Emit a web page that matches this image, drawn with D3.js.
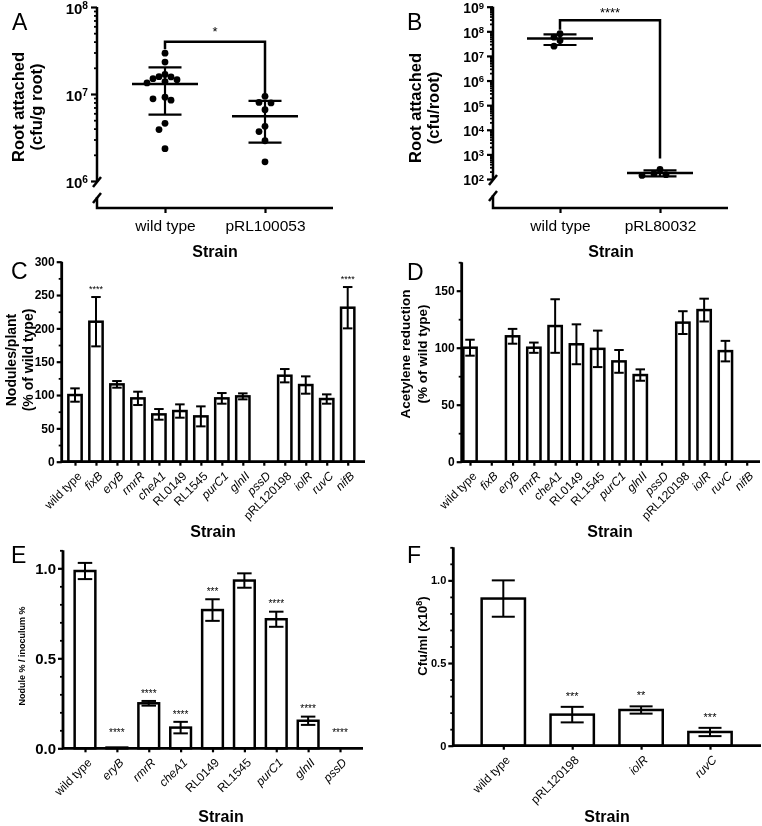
<!DOCTYPE html>
<html>
<head>
<meta charset="utf-8">
<script src="https://cdn.jsdelivr.net/npm/d3@7"></script>
<style>
  body { margin: 0; background: #fff; }
  svg { font-family: "Liberation Sans", Arial, Helvetica, sans-serif; will-change: transform; }
</style>
</head>
<body>
<div id="chart"></div>
<script>
// ---------- data ----------
// A: root attachment (cfu/g root), one value per plant
const aStrains = ["wild type", "pRL100053"];
const aWildType = [2.95e7, 2.33e7, 1.68e7, 1.58e7, 1.57e7, 1.50e7, 1.46e7, 1.39e7, 1.34e7,
                   9.2e6, 8.8e6, 8.5e6, 4.6e6, 3.9e6, 2.35e6];
const aMutant = [9.4e6, 8.0e6, 7.9e6, 6.6e6, 4.25e6, 3.7e6, 2.9e6, 1.66e6];
const aSignif = "*";

// B: root attachment (cfu/root)
const bStrains = ["wild type", "pRL80032"];
const bWildType = [8.0e7, 5.8e7, 4.2e7, 2.5e7];
const bMutant = [245, 165, 150, 140];
const bSignif = "****";

// C: nodules per plant (% of wild type)
const cStrains = ["wild type", "fixB", "eryB", "rmrR", "cheA1", "RL0149", "RL1545", "purC1",
                  "glnII", "pssD", "pRL120198", "iolR", "ruvC", "nifB"];
const cMeans  = [100, 210, 116, 95, 71, 76, 68, 95, 98, 0, 129, 115, 94, 231];
const cErrors = [10, 37, 5, 10, 8, 10, 15, 8, 4.5, 0, 10, 13, 7, 31];
const cSignif = ["", "****", "", "", "", "", "", "", "", "", "", "", "", "****"];

// D: acetylene reduction (% of wild type)
const dStrains = cStrains;
const dMeans  = [100, 0, 110, 100, 119, 103, 99, 88, 76, 0, 122, 133, 97, 0];
const dErrors = [7, 0, 6.5, 4.5, 23.5, 17.5, 16, 10, 5, 0, 10, 10, 9, 0];

// E: competition, nodule % / inoculum %
const eStrains = ["wild type", "eryB", "rmrR", "cheA1", "RL0149", "RL1545", "purC1", "glnII", "pssD"];
const eMeans  = [0.985, 0.004, 0.25, 0.115, 0.768, 0.932, 0.717, 0.153, 0];
const eErrors = [0.045, 0, 0.013, 0.032, 0.06, 0.04, 0.042, 0.023, 0];
const eSignif = ["", "****", "****", "****", "***", "", "****", "****", "****"];

// F: cfu/ml (x10^8)
const fStrains = ["wild type", "pRL120198", "iolR", "ruvC"];
const fMeans  = [0.89, 0.188, 0.216, 0.083];
const fErrors = [0.11, 0.047, 0.022, 0.025];
const fSignif = ["", "***", "**", "***"];

// ---------- drawing ----------
const svg = d3.select("#chart").append("svg")
    .attr("width", 762)
    .attr("height", 826);

const isGene = s => /^[a-z]{3}[A-Z]/.test(s);   // gene names in italics

function panelLetter(t, x, y) {
  svg.append("text").attr("x", x).attr("y", y).text(t).attr("font-size", "23px");
}

function yTitle(lines, x, cy, size, gap) {
  const t = svg.append("text")
      .attr("transform", `translate(${x},${cy}) rotate(-90)`)
      .attr("text-anchor", "middle")
      .attr("font-weight", "bold")
      .attr("font-size", size + "px");
  lines.forEach((l, i) => t.append("tspan").attr("x", 0).attr("y", i * gap).text(l));
  return t;
}

function strainTitle(x, y) {
  svg.append("text").attr("x", x).attr("y", y).attr("text-anchor", "middle")
      .attr("font-weight", "bold").attr("font-size", "16px").text("Strain");
}

// simple beeswarm: keep y, push x sideways until no overlap
function swarm(vals, y, dist, step) {
  const placed = [];
  vals.slice().sort((a, b) => b - a).forEach(v => {
    const py = y(v);
    for (let k = 0; ; k++) {
      const off = k === 0 ? 0 : (k % 2 ? -1 : 1) * Math.ceil(k / 2) * step;
      if (placed.every(p => Math.hypot(p.dx - off, p.y - py) >= dist)) {
        placed.push({v, y: py, dx: off});
        break;
      }
    }
  });
  return placed;
}

function dotPanel(p) {
  const y = d3.scaleLog().domain(p.yDomain).range([p.yBottom, p.yTop]);
  const x = d3.scalePoint().domain(p.strains).range(p.xCenters);
  const ax = p.axisX;

  // axis lines with break
  const axes = svg.append("g").attr("fill", "none").attr("stroke", "#000").attr("stroke-width", 2.5);
  axes.append("path").attr("d", `M${ax},${p.yTop}V${p.yBottom + 1}`);
  axes.append("path").attr("d", `M${ax + 4},${p.yBottom - 4}L${ax - 4},${p.yBottom + 6}`);
  axes.append("path").attr("d", `M${ax + 4},${p.yBottom + 12}L${ax - 4},${p.yBottom + 22}`);
  axes.append("path").attr("d", `M${ax},${p.yBottom + 16}V${p.baseY}H${p.xEnd}`);

  const ticks = y.ticks();
  const isMajor = d => Math.abs(Math.log10(d) - Math.round(Math.log10(d))) < 1e-9;

  svg.append("g").attr("transform", `translate(${ax},0)`)
      .call(d3.axisLeft(y).tickValues(ticks.filter(d => !isMajor(d))).tickSize(3).tickFormat(""))
      .call(g => g.select(".domain").remove())
      .attr("stroke-width", 1.8);

  svg.append("g").attr("transform", `translate(${ax},0)`)
      .call(d3.axisLeft(y).tickValues(ticks.filter(isMajor)).tickSize(6).tickPadding(3))
      .call(g => g.select(".domain").remove())
      .attr("stroke-width", 2.2)
      .call(g => g.selectAll("text")
          .attr("font-size", p.tickFont + "px")
          .attr("font-weight", "bold")
          .attr("font-family", null)
          .attr("dy", "0.42em")
          .text(null)
          .each(function(d) {
            const t = d3.select(this);
            t.append("tspan").text("10");
            t.append("tspan").attr("dy", -p.tickFont * 0.32).attr("font-size", (p.tickFont * 0.68) + "px")
                .text(Math.round(Math.log10(d)));
          }));

  // x axis ticks + labels
  svg.append("g").attr("transform", `translate(0,${p.baseY})`)
      .call(d3.axisBottom(x).tickSize(5).tickPadding(7))
      .call(g => g.select(".domain").remove())
      .attr("stroke-width", 2.2)
      .call(g => g.selectAll("text").attr("font-size", "15.5px").attr("font-family", null));

  // points, mean and SD
  [p.groupA, p.groupB].forEach((vals, i) => {
    const cx = x(p.strains[i]);
    const pts = swarm(vals, y, 6.3, 6);
    svg.append("g").selectAll("circle").data(pts).join("circle")
        .attr("cx", d => cx + d.dx)
        .attr("cy", d => d.y)
        .attr("r", 3.4)
        .attr("fill", "#000");
    const m = d3.mean(vals), sd = d3.deviation(vals);
    const g = svg.append("g").attr("stroke", "#000");
    g.append("line").attr("x1", cx - 33).attr("x2", cx + 33)
        .attr("y1", y(m)).attr("y2", y(m)).attr("stroke-width", 2.5);
    g.append("line").attr("x1", cx).attr("x2", cx)
        .attr("y1", y(m - sd)).attr("y2", y(m + sd)).attr("stroke-width", 2.2);
    [m - sd, m + sd].forEach(v => g.append("line").attr("x1", cx - 16.5).attr("x2", cx + 16.5)
        .attr("y1", y(v)).attr("y2", y(v)).attr("stroke-width", 2.2));
  });

  // significance bracket
  const top = y(Math.max(d3.max(p.groupA), d3.max(p.groupB))) - p.bracketGap;
  const x0 = x(p.strains[0]), x1 = x(p.strains[1]);
  svg.append("path")
      .attr("d", `M${x0},${y(d3.max(p.groupA)) - 4}V${top}H${x1}V${y(d3.max(p.groupB)) - p.rightLegGap}`)
      .attr("fill", "none").attr("stroke", "#000").attr("stroke-width", 2.5);
  svg.append("text").attr("x", (x0 + x1) / 2).attr("y", top - p.starGap)
      .attr("text-anchor", "middle").attr("font-size", "13px").text(p.signif);
}

function barPanel(p) {
  const x = d3.scalePoint().domain(p.strains).range(p.xCenters);
  const y = d3.scaleLinear().domain(p.yDomain).range([p.baseY, p.topY]);
  const bw = p.barWidth, cap = p.capWidth;
  const data = p.strains.map((s, i) => ({s, v: p.means[i], e: p.errors[i], star: p.signif ? p.signif[i] : ""}));

  // bars
  svg.append("g").selectAll("rect").data(data.filter(d => d.v > 0)).join("rect")
      .attr("x", d => x(d.s) - bw / 2)
      .attr("y", d => y(d.v))
      .attr("width", bw)
      .attr("height", d => y(0) - y(d.v))
      .attr("fill", "#fff")
      .attr("stroke", "#000")
      .attr("stroke-width", 2.5);

  // error bars (mean +/- SEM)
  const withErr = data.filter(d => d.e > 0);
  const eg = svg.append("g").attr("stroke", "#000").attr("stroke-width", 2);
  eg.selectAll("line.v").data(withErr).join("line").attr("class", "v")
      .attr("x1", d => x(d.s)).attr("x2", d => x(d.s))
      .attr("y1", d => y(d.v - d.e)).attr("y2", d => y(d.v + d.e));
  eg.selectAll("line.c").data(withErr.flatMap(d => [{s: d.s, v: d.v - d.e}, {s: d.s, v: d.v + d.e}]))
    .join("line").attr("class", "c")
      .attr("x1", d => x(d.s) - cap / 2).attr("x2", d => x(d.s) + cap / 2)
      .attr("y1", d => y(d.v)).attr("y2", d => y(d.v));

  // stars
  svg.append("g").selectAll("text").data(data.filter(d => d.star)).join("text")
      .attr("x", d => x(d.s))
      .attr("y", d => Math.min(y(d.v + d.e) - p.starGap, y(0) - p.starMin))
      .attr("text-anchor", "middle")
      .attr("font-size", p.starFont + "px")
      .attr("fill", "#000")
      .text(d => d.star);

  // axis lines
  svg.append("path")
      .attr("d", `M${p.axisX},${p.topY}V${p.baseY}H${p.xEnd}`)
      .attr("fill", "none").attr("stroke", "#000").attr("stroke-width", 2.8);

  // y ticks
  svg.append("g").attr("transform", `translate(${p.axisX},0)`)
      .call(d3.axisLeft(y).tickValues(p.minorTicks).tickSize(3).tickFormat(""))
      .call(g => g.select(".domain").remove())
      .attr("stroke-width", 1.8);
  svg.append("g").attr("transform", `translate(${p.axisX},0)`)
      .call(d3.axisLeft(y).tickValues(p.majorTicks).tickSize(5).tickPadding(2).tickFormat(p.fmt))
      .call(g => g.select(".domain").remove())
      .attr("stroke-width", 2.2)
      .call(g => g.selectAll("text").attr("font-size", p.tickFont + "px")
          .attr("font-weight", "bold").attr("font-family", null));

  // x ticks with slanted labels
  svg.append("g").attr("transform", `translate(0,${p.baseY})`)
      .call(d3.axisBottom(x).tickSize(4))
      .call(g => g.select(".domain").remove())
      .attr("stroke-width", 2.2)
      .call(g => g.selectAll("text")
          .attr("font-size", "12px")
          .attr("font-family", null)
          .attr("font-style", d => isGene(d) ? "italic" : null)
          .attr("text-anchor", "end")
          .attr("x", null).attr("y", null).attr("dy", null)
          .attr("transform", "translate(7,15) rotate(-45)"));
}

// ---------- panels ----------
dotPanel({
  strains: aStrains, groupA: aWildType, groupB: aMutant, signif: aSignif,
  yDomain: [1e6, 1e8], yTop: 7, yBottom: 181, baseY: 208,
  axisX: 97, xEnd: 333, xCenters: [165, 265], tickFont: 15,
  bracketGap: 11.5, rightLegGap: 0, starGap: 5.5
});
panelLetter("A", 12, 30);
yTitle(["Root attached", "(cfu/g root)"], 24, 107, 16.5, 18);
strainTitle(215, 257);

dotPanel({
  strains: bStrains, groupA: bWildType, groupB: bMutant, signif: bSignif,
  yDomain: [1e2, 1e9], yTop: 6.7, yBottom: 179, baseY: 208,
  axisX: 493, xEnd: 728, xCenters: [560, 660], tickFont: 14,
  bracketGap: 13.5, rightLegGap: 11, starGap: 3
});
panelLetter("B", 407, 30);
yTitle(["Root attached", "(cfu/root)"], 421, 108, 16.5, 18);
strainTitle(611, 257);

barPanel({
  strains: cStrains, means: cMeans, errors: cErrors, signif: cSignif,
  yDomain: [0, 300], topY: 261.7, baseY: 461.7, axisX: 61.7, xEnd: 365,
  xCenters: [75, 347.7], barWidth: 13.3, capWidth: 9.5,
  majorTicks: d3.range(0, 301, 50), minorTicks: d3.range(25, 300, 50),
  fmt: d3.format("d"), tickFont: 12, starFont: 9, starGap: 4.8, starMin: 12
});
panelLetter("C", 11, 279);
yTitle(["Nodules/plant", "(% of wild type)"], 15.5, 360, 14, 17.5);
strainTitle(213, 537);

barPanel({
  strains: dStrains, means: dMeans, errors: dErrors,
  yDomain: [0, 175], topY: 262.2, baseY: 461.7, axisX: 461.7, xEnd: 760,
  xCenters: [470, 746.7], barWidth: 13.3, capWidth: 9.5,
  majorTicks: [0, 50, 100, 150], minorTicks: [25, 75, 125, 175],
  fmt: d3.format("d"), tickFont: 12, starFont: 9, starGap: 4.8, starMin: 12
});
panelLetter("D", 407, 280);
yTitle(["Acetylene reduction", "(% of wild type)"], 410, 354, 13.5, 17);
strainTitle(610, 537);

barPanel({
  strains: eStrains, means: eMeans, errors: eErrors, signif: eSignif,
  yDomain: [0, 1.1], topY: 550.3, baseY: 748.3, axisX: 63, xEnd: 363,
  xCenters: [85, 340], barWidth: 20.7, capWidth: 14.5,
  majorTicks: [0, 0.5, 1.0], minorTicks: [0.1, 0.2, 0.3, 0.4, 0.6, 0.7, 0.8, 0.9, 1.1],
  fmt: d3.format(".1f"), tickFont: 15, starFont: 10, starGap: 4.3, starMin: 12
});
panelLetter("E", 11, 563);
yTitle(["Nodule % / inoculum %"], 25, 656, 9, 0);
strainTitle(221, 822);

barPanel({
  strains: fStrains, means: fMeans, errors: fErrors, signif: fSignif,
  yDomain: [0, 1.2], topY: 547.3, baseY: 745.7, axisX: 453.3, xEnd: 761,
  xCenters: [503.3, 710], barWidth: 43.3, capWidth: 23,
  majorTicks: [0, 0.5, 1.0], minorTicks: [0.1, 0.2, 0.3, 0.4, 0.6, 0.7, 0.8, 0.9, 1.1, 1.2],
  fmt: d => d === 0 ? "0" : d3.format(".1f")(d), tickFont: 11, starFont: 11, starGap: 7, starMin: 12
});
panelLetter("F", 407, 563);
const fTitle = yTitle(["Cfu/ml (x10"], 427, 636, 13, 0);
fTitle.select("tspan").append("tspan").attr("dy", -5).attr("font-size", "9px").text("8");
fTitle.select("tspan").append("tspan").attr("dy", 5).text(")");
strainTitle(607, 822);
</script>
</body>
</html>
